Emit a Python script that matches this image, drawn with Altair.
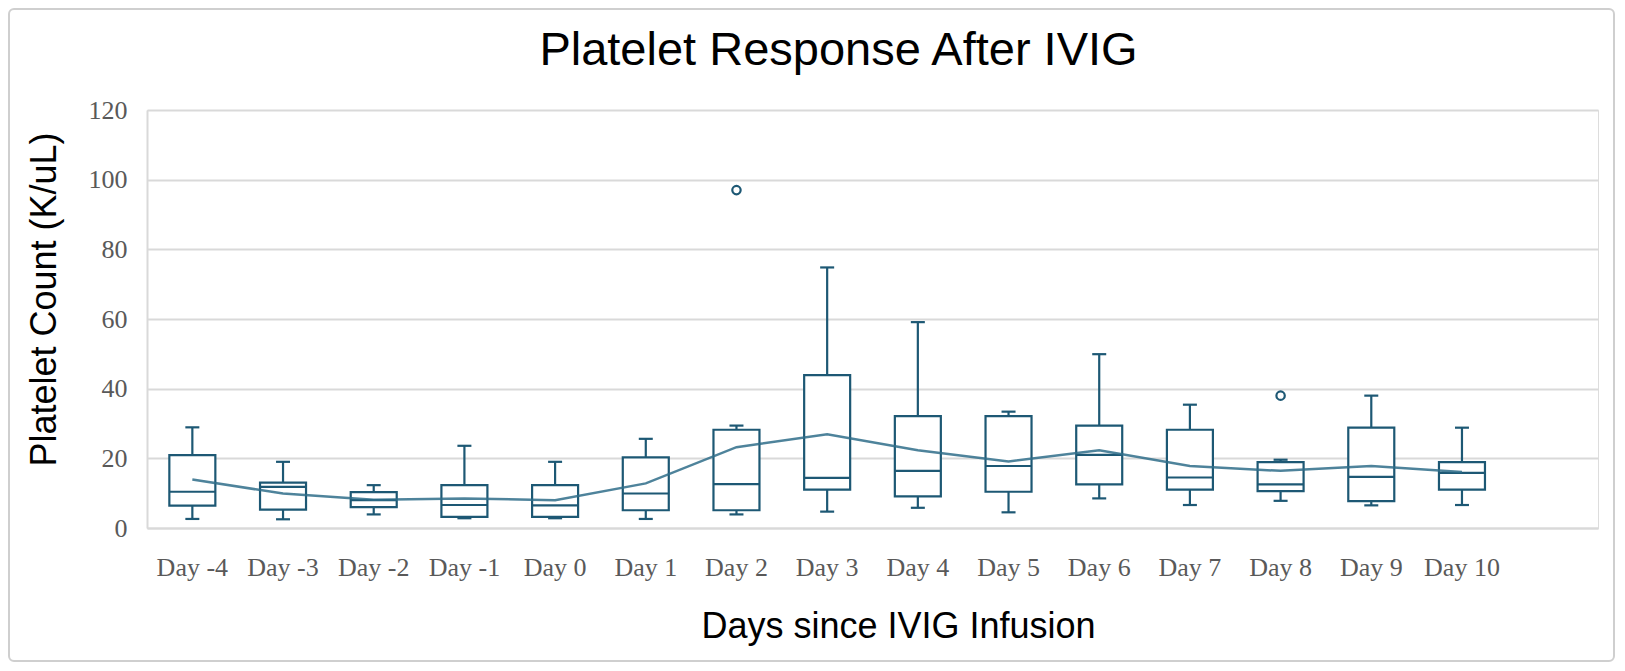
import altair as alt
import pandas as pd

days = ["Day -4", "Day -3", "Day -2", "Day -1", "Day 0", "Day 1", "Day 2", "Day 3",
        "Day 4", "Day 5", "Day 6", "Day 7", "Day 8", "Day 9", "Day 10"]
whisker_low = [2.6, 2.5, 3.9, 2.8, 2.8, 2.6, 3.9, 4.7, 5.8, 4.5, 8.5, 6.6, 7.8, 6.5, 6.6]
q1 = [6.4, 5.3, 6.0, 3.2, 3.2, 5.1, 5.1, 11.0, 9.1, 10.4, 12.5, 11.0, 10.6, 7.7, 11.0]
median = [10.4, 11.8, 8.0, 6.6, 6.5, 9.9, 12.6, 14.4, 16.4, 17.8, 21.0, 14.5, 12.5, 14.7, 15.8]
q3 = [20.9, 13.0, 10.3, 12.3, 12.3, 20.3, 28.2, 43.9, 32.1, 32.1, 29.4, 28.2, 18.9, 28.8, 18.9]
whisker_high = [28.9, 19.0, 12.3, 23.6, 19.0, 25.6, 29.4, 74.8, 59.1, 33.4, 49.9, 35.4, 19.6, 38.0, 28.8]
mean = [13.9, 9.9, 8.1, 8.5, 8.0, 12.8, 23.2, 26.9, 22.3, 19.1, 22.3, 17.8, 16.4, 17.8, 16.1]
outlier_days = ["Day 2", "Day 8"]
outlier_vals = [97.0, 38.0]

df = pd.DataFrame({"day": days, "lo": whisker_low, "q1": q1, "med": median,
                   "q3": q3, "hi": whisker_high, "mean": mean})
out_df = pd.DataFrame({"day": outlier_days, "val": outlier_vals})

COLOR = "#1d5874"
GRID = "#d9d9d9"
domain = days + [" "]

xenc = alt.X("day:N", sort=domain,
             scale=alt.Scale(type="band", domain=domain, paddingInner=0, paddingOuter=0),
             axis=alt.Axis(title="Days since IVIG Infusion", labelAngle=0,
                           labelFont="Liberation Serif", labelFontSize=26,
                           labelColor="#595959", labelBaseline="alphabetic",
                           labelPadding=47, ticks=False, tickSize=0,
                           domainColor=GRID, domainWidth=2,
                           titleFont="Liberation Sans", titleFontSize=36,
                           titleFontWeight="normal", titleColor="#000000",
                           titleX=751, titleY=109, titleBaseline="alphabetic",
                           titleAlign="center"))
yscale = alt.Scale(domain=[0, 120], nice=False)
yaxis = alt.Axis(title="Platelet Count (K/uL)", values=[0, 20, 40, 60, 80, 100, 120],
                 labelFont="Liberation Serif", labelFontSize=26, labelColor="#595959",
                 labelPadding=20, ticks=False, tickSize=0,
                 grid=True, gridColor=GRID, gridWidth=2,
                 domainColor=GRID, domainWidth=2,
                 titleFont="Liberation Sans", titleFontSize=36, titleFontWeight="normal",
                 titleColor="#000000", titleX=-92, titleY=189, titleAngle=270,
                 titleBaseline="alphabetic", titleAlign="center")

base = alt.Chart(df)

whisk = base.mark_rule(color=COLOR, strokeWidth=2.2).encode(
    x=xenc, y=alt.Y("lo:Q", scale=yscale, axis=yaxis), y2="hi:Q")
box = base.mark_bar(fill="white", stroke=COLOR, strokeWidth=2.2, size=46).encode(
    x=xenc, y=alt.Y("q1:Q", scale=yscale, axis=yaxis), y2="q3:Q")
med = base.mark_tick(color=COLOR, thickness=2.2, size=46, opacity=1).encode(
    x=xenc, y=alt.Y("med:Q", scale=yscale, axis=yaxis))
cap_lo = base.mark_tick(color=COLOR, thickness=2.2, size=14, opacity=1).encode(
    x=xenc, y=alt.Y("lo:Q", scale=yscale, axis=yaxis))
cap_hi = base.mark_tick(color=COLOR, thickness=2.2, size=14, opacity=1).encode(
    x=xenc, y=alt.Y("hi:Q", scale=yscale, axis=yaxis))
mean_line = base.mark_line(color="#2f6d8a", strokeWidth=2.5, opacity=0.85).encode(
    x=xenc, y=alt.Y("mean:Q", scale=yscale, axis=yaxis))
outl = alt.Chart(out_df).mark_point(shape="circle", filled=False, color=COLOR,
                                    strokeWidth=2.2, size=70, opacity=1).encode(
    x=alt.X("day:N", sort=domain), y=alt.Y("val:Q", scale=yscale, axis=yaxis))
frame = alt.Chart(pd.DataFrame({"k": [0]})).mark_rect(
    fill=None, stroke="#cfcfcf", strokeWidth=2, cornerRadius=5).encode(
    x=alt.value(-138), x2=alt.value(1467), y=alt.value(-101), y2=alt.value(551))

chart = alt.layer(frame, whisk, box, med, cap_lo, cap_hi, mean_line, outl).properties(
    width=1451, height=418,
    title=alt.Title("Platelet Response After IVIG", font="Liberation Sans", fontSize=47,
                    fontWeight="normal", color="#000000", anchor="middle", frame="group",
                    dx=-34, dy=104, baseline="alphabetic", offset=0),
    autosize=alt.AutoSizeParams(type="none"),
    padding={"left": 139, "top": 102, "right": 18, "bottom": 134},
).configure_view(stroke=None).configure(background="white")

chart.save("out.html", embed_options={"renderer": "svg", "actions": False})
